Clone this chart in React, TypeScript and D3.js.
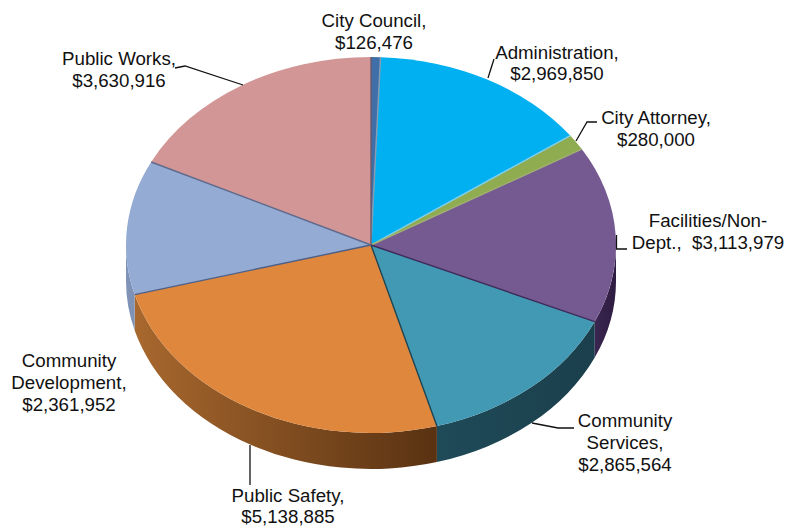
import React from "react";
import * as d3 from "d3";

const departments = ["City Council", "Administration", "City Attorney", "Facilities/Non-Dept.", "Community Services", "Public Safety", "Community Development", "Public Works"];
const budgets = [126476, 2969850, 280000, 3113979, 2865564, 5138885, 2361952, 3630916];
const topColors = ["#3f6fa8", "#00b0f0", "#8fac50", "#755a92", "#4299b4", "#e0873e", "#94abd3", "#d39696"];
const wallStart = ["#30507a", "#007fb0", "#66803a", "#3a2650", "#1f4a58", "#a8682e", "#8093b8", "#a87070"];
const wallEnd = ["#30507a", "#007fb0", "#66803a", "#2e1c42", "#1b3f4c", "#593212", "#7f92b5", "#a87070"];
const edgeColors = ["#8c9cb0", "#7fd0f0", "#a0b070", "#3e2a58", "#1d4553", "#4d5f85", "#5f6a8c", "#6b5a6a"];

const labelLines = [
  ["City Council,", "$126,476"],
  ["Administration,", "$2,969,850"],
  ["City Attorney,", "$280,000"],
  ["Facilities/Non-", "Dept.,  $3,113,979"],
  ["Community", "Services,", "$2,865,564"],
  ["Public Safety,", "$5,138,885"],
  ["Community", "Development,", "$2,361,952"],
  ["Public Works,", "$3,630,916"],
];
const labelAnchors: [number, number][] = [[374, 27], [557, 59], [656, 124], [708, 227], [625, 427], [288, 502], [69, 367], [119, 65]];
const labelLineHeights = [22, 21, 22, 22, 22, 20.5, 22, 22];
const leaders: [number, number][][] = [
  [],
  [[494, 59], [488, 78]],
  [[597, 122], [587, 122], [576, 141]],
  [[627, 249], [616.5, 249], [616.5, 235]],
  [[574, 428], [558, 428], [532, 423]],
  [[250, 445], [250, 485]],
  [],
  [[175, 68], [185, 66], [243, 85]],
];

const W = 787, H = 527;
const cx = 371, cy = 245, rx = 245, ry = 188, depth = 36;
const sx = d3.scaleLinear().domain([-1, 1]).range([cx - rx, cx + rx]);
const sy = d3.scaleLinear().domain([-1, 1]).range([cy - ry, cy + ry]);
const ptX = (a: number) => sx(Math.sin(a));
const ptY = (a: number) => sy(-Math.cos(a));

const pie = d3.pie<number>().sort(null).startAngle(0).endAngle(2 * Math.PI);
const arcs = pie(budgets);

function topPath(a0: number, a1: number) {
  const large = a1 - a0 > Math.PI ? 1 : 0;
  return `M${sx(0)},${sy(0)}L${ptX(a0)},${ptY(a0)}A${rx},${ry} 0 ${large} 1 ${ptX(a1)},${ptY(a1)}Z`;
}

function wallPath(a0: number, a1: number) {
  const s = Math.max(a0, Math.PI / 2), e = Math.min(a1, 1.5 * Math.PI);
  if (e <= s) return null;
  const large = e - s > Math.PI ? 1 : 0;
  const d = `M${ptX(s)},${ptY(s)}A${rx},${ry} 0 ${large} 1 ${ptX(e)},${ptY(e)}` +
    `L${ptX(e)},${ptY(e) + depth}A${rx},${ry} 0 ${large} 0 ${ptX(s)},${ptY(s) + depth}Z`;
  return { d, x0: Math.min(ptX(s), ptX(e)), x1: Math.max(ptX(s), ptX(e)) };
}

const line = d3.line<[number, number]>();

export default function App() {
  const walls = arcs.map((a) => wallPath(a.startAngle, a.endAngle));
  return (
    <svg width={W} height={H} style={{ position: "absolute", left: 0, top: 0, background: "#fff" }} fontFamily="'Liberation Sans', Arial, sans-serif" fontSize={18.7} fill="#111">
      <defs>
        {walls.map((w, i) => w && (
          <linearGradient key={i} id={`wall${i}`} gradientUnits="userSpaceOnUse" x1={w.x0} x2={w.x1} y1={0} y2={0}>
            <stop offset="0" stopColor={wallStart[i]} />
            <stop offset="1" stopColor={wallEnd[i]} />
          </linearGradient>
        ))}
      </defs>
      {walls.map((w, i) => w && <path key={i} d={w.d} fill={`url(#wall${i})`} />)}
      {arcs.map((a, i) => (
        <path key={i} d={topPath(a.startAngle, a.endAngle)} fill={topColors[i]} />
      ))}
      {arcs.map((a, i) => (
        <line key={i} x1={sx(0)} y1={sy(0)} x2={ptX(a.endAngle)} y2={ptY(a.endAngle)} stroke={edgeColors[i]} strokeWidth={1.4} />
      ))}
      {leaders.map((l, i) => l.length > 0 && (
        <path key={i} d={line(l) ?? ""} fill="none" stroke="#111" strokeWidth={1.3} />
      ))}
      {departments.map((name, i) => (
        <text key={name} textAnchor="middle" aria-label={name}>
          {labelLines[i].map((t, j) => (
            <tspan key={j} x={labelAnchors[i][0]} y={labelAnchors[i][1] + j * labelLineHeights[i]} xmlSpace="preserve">{t}</tspan>
          ))}
        </text>
      ))}
    </svg>
  );
}
